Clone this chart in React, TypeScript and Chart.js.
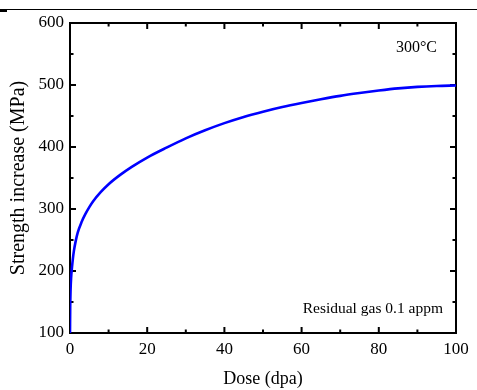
import React, { useEffect, useRef } from "react";
import { Chart, registerables } from "chart.js";

Chart.register(...registerables);

const dose = [0, 0.05, 0.15, 0.3, 0.5, 0.75, 1, 1.5, 2, 3, 4, 5, 6, 8, 10, 13, 16, 20, 25, 30, 35, 40, 45, 50, 55, 60, 65, 70, 75, 80, 85, 90, 95, 100];
const strength = [100, 140, 170, 190, 205, 220, 232, 249, 262, 279, 292, 303, 312.5, 327.5, 340, 355, 368, 383, 399, 414, 427, 438.5, 448.5, 457, 464.5, 471, 477, 482.5, 487, 491, 494.5, 497, 498.5, 499.3];

const xTitle = "Dose (dpa)";
const yTitle = "Strength increase (MPa)";
const tempLabel = "300°C";
const gasLabel = "Residual gas 0.1 appm";

const SERIF = "'Liberation Serif', 'Times New Roman', serif";

const framePlugin = {
  id: "frame",
  beforeDatasetsDraw(chart: any) {
    const { ctx, chartArea, scales } = chart;
    const { left, right, top, bottom } = chartArea;
    ctx.save();
    ctx.strokeStyle = "#000";
    ctx.lineWidth = 2;
    ctx.strokeRect(left, top, right - left, bottom - top);
    const xs = scales.x;
    for (let v = 0; v <= 100; v += 10) {
      const px = xs.getPixelForValue(v);
      const len = v % 20 === 0 ? 6 : 3.5;
      ctx.beginPath();
      ctx.moveTo(px, bottom);
      ctx.lineTo(px, bottom - len);
      ctx.moveTo(px, top);
      ctx.lineTo(px, top + len);
      ctx.stroke();
    }
    const ys = scales.y;
    for (let v = 100; v <= 600; v += 50) {
      const py = ys.getPixelForValue(v);
      const len = v % 100 === 0 ? 6 : 3.5;
      ctx.beginPath();
      ctx.moveTo(left, py);
      ctx.lineTo(left + len, py);
      ctx.moveTo(right, py);
      ctx.lineTo(right - len, py);
      ctx.stroke();
    }
    ctx.restore();
  },
  afterDraw(chart: any) {
    const { ctx, chartArea } = chart;
    ctx.save();
    ctx.fillStyle = "#000";
    ctx.textAlign = "right";
    ctx.textBaseline = "alphabetic";
    ctx.font = `16px ${SERIF}`;
    ctx.fillText(tempLabel, chartArea.right - 19, 51.5);
    ctx.font = `15.5px ${SERIF}`;
    ctx.fillText(gasLabel, chartArea.right - 13, 312.5);
    ctx.restore();
  },
};

export default function App() {
  const ref = useRef<HTMLCanvasElement | null>(null);
  useEffect(() => {
    if (!ref.current) return;
    const chart = new Chart(ref.current, {
      type: "line",
      data: {
        datasets: [
          {
            data: dose.map((d, i) => ({ x: d, y: strength[i] })),
            borderColor: "#0000ff",
            borderWidth: 2.6,
            pointRadius: 0,
            fill: false,
            cubicInterpolationMode: "monotone",
          },
        ],
      },
      options: {
        responsive: false,
        animation: false,
        events: [],
        layout: { padding: { left: 0, top: 23, right: 21, bottom: 0 } },
        plugins: { legend: { display: false }, tooltip: { enabled: false } },
        scales: {
          x: {
            type: "linear",
            min: 0,
            max: 100,
            grid: { display: false, drawTicks: false },
            border: { display: false },
            ticks: {
              stepSize: 20,
              padding: 6,
              color: "#000",
              font: { family: SERIF, size: 17 },
              maxRotation: 0,
            },
            title: {
              display: true,
              text: xTitle,
              color: "#000",
              font: { family: SERIF, size: 18 },
              padding: { top: 0, bottom: 0 },
            },
            afterFit(scale: any) {
              scale.height = 57;
            },
          },
          y: {
            type: "linear",
            min: 100,
            max: 600,
            grid: { display: false, drawTicks: false },
            border: { display: false },
            ticks: {
              stepSize: 100,
              padding: 6,
              color: "#000",
              font: { family: SERIF, size: 17 },
            },
            title: {
              display: true,
              text: yTitle,
              color: "#000",
              font: { family: SERIF, size: 20 },
              padding: { top: 7, bottom: 0 },
            },
            afterFit(scale: any) {
              scale.width = 70;
            },
          },
        },
      },
      plugins: [framePlugin],
    });
    return () => chart.destroy();
  }, []);

  return (
    <div style={{ position: "fixed", left: 0, top: 0, width: 477, height: 390, background: "#fff" }}>
      <canvas ref={ref} width={477} height={390} style={{ display: "block" }} />
      <div style={{ position: "absolute", left: 0, top: 9, width: 477, height: 1, background: "#000" }} />
      <div style={{ position: "absolute", left: 0, top: 10, width: 7, height: 2, background: "#000" }} />
    </div>
  );
}
